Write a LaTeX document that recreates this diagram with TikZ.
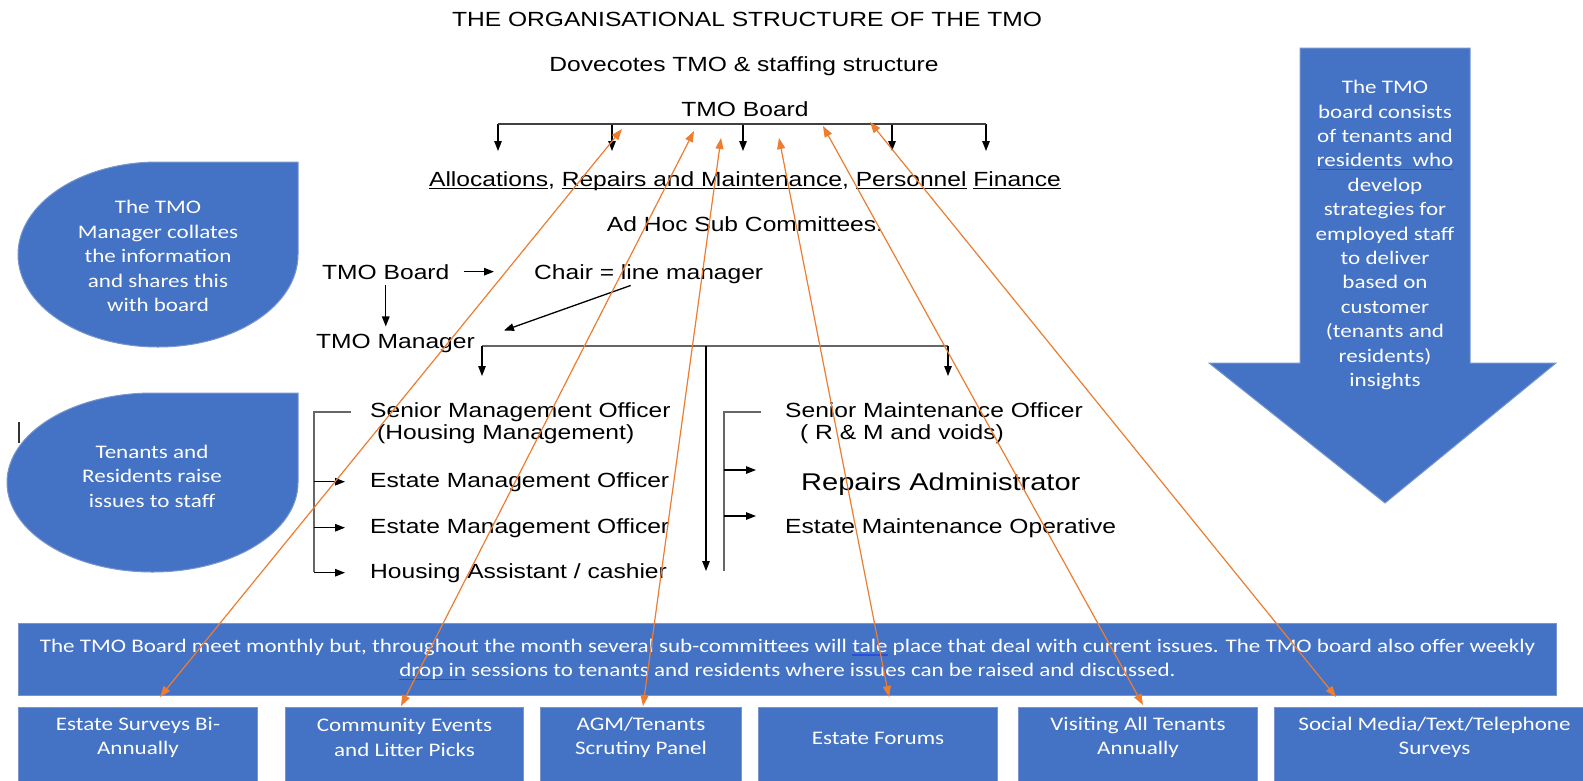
\documentclass[tikz,border=0pt]{standalone}
\usepackage{fontspec}
\setmainfont{Liberation Sans}[FakeStretch=1.2]
\newfontfamily\calibri{Carlito}[FakeStretch=1.2]
\usetikzlibrary{positioning}
\usetikzlibrary{calc}
\usetikzlibrary{arrows.meta}
\definecolor{officeblue}{RGB}{68,114,196}
\definecolor{boxedge}{RGB}{120,150,205}
\definecolor{linkorange}{RGB}{237,125,49}
\definecolor{gramblue}{RGB}{40,80,220}
% underline drawn as a rule under the saved box
\newcommand{\undline}[2][black]{\setbox0\hbox{#2}\rlap{\textcolor{#1}{\rule[-3.2pt]{\wd0}{1.1pt}}}\box0\relax}
\newcommand{\orgfont}{\fontsize{20.5}{24}\selectfont}
\newcommand{\shapefont}{\calibri\fontsize{19.2}{24.4}\selectfont}

\begin{document}
\begin{tikzpicture}[x=1pt, y=-1pt,
    lbl/.style={font=\orgfont, inner sep=0pt, anchor=base west},
    clbl/.style={font=\orgfont, inner sep=0pt, anchor=base},
    shapetext/.style={font=\shapefont, text=white, align=center, inner sep=0pt},
    bluebox/.style={fill=officeblue, draw=boxedge, line width=1pt, inner sep=0pt},
    brline/.style={draw=black!60, line width=1.3pt},
    droparrow/.style={draw=black, line width=1.3pt, -{Triangle[length=10pt,width=7.5pt]}},
    linkarrow/.style={draw=linkorange, line width=1.2pt,
        {Triangle[length=11pt,width=8pt]}-{Triangle[length=11pt,width=8pt]}}]
    \fill[white] (0,0) rectangle (1583,780);
    \useasboundingbox (0,0) rectangle (1583,780);

    % Headings and the board
    \node[clbl] (title) at (747,26) {THE ORGANISATIONAL STRUCTURE OF THE TMO};
    \node[clbl] (subtitle) at (744,71) {Dovecotes TMO \& staffing structure};
    \node[clbl] (board) at (745,116) {TMO Board};
    \node[clbl] (committees) at (745,186)
        {\undline{Allocations}, \undline{Repairs and Maintenance}, \undline{Personnel} \undline{Finance}};
    \node[clbl] (adhoc) at (745,231) {Ad Hoc Sub Committees.};

    % Board to sub committees
    \foreach \x [count=\i] in {498,612,743,892,986} {
        \coordinate (bt\i) at (\x,124);
        \coordinate (bd\i) at (\x,151);
        \draw[droparrow] (bt\i) -- (bd\i);
    }
    \draw[brline, draw=black!75] (bt1) -- (bt5);

    % Line management
    \node[lbl] (boardL) at (322,279) {TMO Board};
    \node[lbl] (chair) at (534,279) {Chair = line manager};
    \node[lbl] (manager) at (316,348) {TMO Manager};
    \draw[droparrow, shorten <=14pt, shorten >=40pt] (boardL.east) -- (boardL.east -| chair.west);
    \draw[droparrow, shorten <=6pt, shorten >=7pt] (boardL.south) -- (boardL.south |- manager.north);
    \coordinate (chairOut) at ($(chair.south)+(-18,2)$);
    \coordinate (mgrIn) at ($(manager.north east)+(29,-3)$);
    \draw[droparrow] (chairOut) -- (mgrIn);

    % Manager to the two senior officers
    \coordinate (mgrL) at (482,346);
    \coordinate (mgrM) at (706,346);
    \coordinate (mgrR) at (948,346);
    \coordinate (smoIn) at (482,376);
    \coordinate (smaintIn) at (948,376);
    \coordinate (midEnd) at (706,571);
    \draw[brline] (mgrL) -- (mgrR);
    \draw[droparrow] (mgrL) -- (smoIn);
    \draw[droparrow] (mgrR) -- (smaintIn);
    \draw[droparrow] (mgrM) -- (midEnd);

    % Housing management staff
    \node[lbl] (smo) at (370,417) {Senior Management Officer};
    \node[lbl] (smoHM) at (377,439) {(Housing Management)};
    \node[lbl] (emoA) at (370,487) {Estate Management Officer};
    \node[lbl] (emoB) at (370,533) {Estate Management Officer};
    \node[lbl] (cashier) at (370,578) {Housing Assistant / cashier};
    \coordinate (lbTick) at (351,412);
    \coordinate (lbTop) at (314,412);
    \coordinate (lbBot) at (314,572);
    \draw[brline] (lbTick) -- (lbTop) -- (lbBot);
    \foreach \n in {emoA,emoB,cashier} {
        \draw[droparrow, shorten >=25pt] (lbTop |- \n.west) -- (\n.west);
    }

    % Maintenance staff
    \node[lbl] (smaint) at (785,417) {Senior Maintenance Officer};
    \node[lbl] (smaintRM) at (800,439) {( R \& M and voids)};
    \node[lbl, font=\fontsize{24.2}{28}\selectfont] (repairs) at (801,490) {Repairs Administrator};
    \node[lbl] (emop) at (785,533) {Estate Maintenance Operative};
    \coordinate (rbTick) at (761,412);
    \coordinate (rbTop) at (724,412);
    \coordinate (rbBot) at (724,571);
    \draw[brline] (rbTick) -- (rbTop) -- (rbBot);
    \foreach \y/\n in {470/repairs,516/emop} {
        \coordinate (rb\n) at (724,\y);
        \coordinate (rbtip\n) at (756,\y);
        \draw[droparrow] (rb\n) -- (rbtip\n);
    }
    \draw[black!80, line width=1.5pt] (19,422) -- (19,443);

    % Teardrops on the left
    \path[bluebox] (158,162) -- (298,162) -- (298,254.5)
        .. controls (298,305.6) and (235.3,347) .. (158,347)
        .. controls (80.7,347) and (18,305.6) .. (18,254.5)
        .. controls (18,203.4) and (80.7,162) .. (158,162) -- cycle;
    \node[shapetext] (tearTxtA) at (158,256)
        {The TMO\\Manager collates\\the information\\and shares this\\with board};
    \path[bluebox] (152.5,393) -- (298,393) -- (298,482.5)
        .. controls (298,531.9) and (232.9,572) .. (152.5,572)
        .. controls (72.1,572) and (7,531.9) .. (7,482.5)
        .. controls (7,433.1) and (72.1,393) .. (152.5,393) -- cycle;
    \node[shapetext] (tearTxtB) at (152,476) {Tenants and\\Residents raise\\issues to staff};

    % Big arrow on the right
    \path[bluebox] (1300,48) -- (1470,48) -- (1470,363) -- (1556,363)
        -- (1385,503) -- (1209,363) -- (1300,363) -- cycle;
    \node[shapetext] (arrowTxt) at (1385,235)
        {The TMO\\board consists\\of tenants and\\\undline[gramblue]{residents\ \ who}\\develop\\strategies for\\employed staff\\to deliver\\based on\\customer\\(tenants and\\residents)\\insights};

    % Notes strip
    \node[bluebox, shapetext, minimum width=1538, minimum height=72, anchor=north west] (notes) at (18,623)
        {The TMO Board meet monthly but, throughout the month several sub-committees will \undline[gramblue]{tale} place that deal with current issues. The TMO board also offer weekly\\\undline[gramblue]{drop in} sessions to tenants and residents where issues can be raised and discussed.};

    % Engagement boxes
    \node[bluebox, minimum width=239, minimum height=90, anchor=north west] (surveys) at (18,707) {};
    \node[bluebox, minimum width=238, minimum height=90, anchor=north west] (events) at (285,707) {};
    \node[bluebox, minimum width=201, minimum height=90, anchor=north west] (agm) at (540,707) {};
    \node[bluebox, minimum width=239, minimum height=90, anchor=north west] (forums) at (758,707) {};
    \node[bluebox, minimum width=239, minimum height=90, anchor=north west] (visiting) at (1018,707) {};
    \node[bluebox, minimum width=320, minimum height=90, anchor=north west] (social) at (1274,707) {};
    \node[shapetext] (surveysTxt) at ($(surveys.north)+(0,30.5)$) {Estate Surveys Bi-\\Annually};
    \node[shapetext] (eventsTxt) at ($(events.north)+(0,30.5)$) {Community Events\\and Litter Picks};
    \node[shapetext] (agmTxt) at ($(agm.north)+(0,30.5)$) {AGM/Tenants\\Scrutiny Panel};
    \node[shapetext] (forumsTxt) at ($(forums.north)+(0,31)$) {Estate Forums};
    \node[shapetext] (visitingTxt) at ($(visiting.north)+(0,30.5)$) {Visiting All Tenants\\Annually};
    \node[shapetext] (socialTxt) at ($(social.north)+(0,30.5)$) {Social Media/Text/Telephone\\Surveys};

    % Links between the board and each way of engaging
    \foreach \i/\bx/\by/\tx/\ty in {1/160/697/622/129, 2/401/706/694/131, 3/643/706/721/138,
                                   4/889/697/779/138, 5/1143/705/823/126, 6/1336/697/870/122} {
        \coordinate (lkb\i) at (\bx,\by);
        \coordinate (lkt\i) at (\tx,\ty);
        \draw[linkarrow] (lkb\i) -- (lkt\i);
    }
\end{tikzpicture}
\end{document}
